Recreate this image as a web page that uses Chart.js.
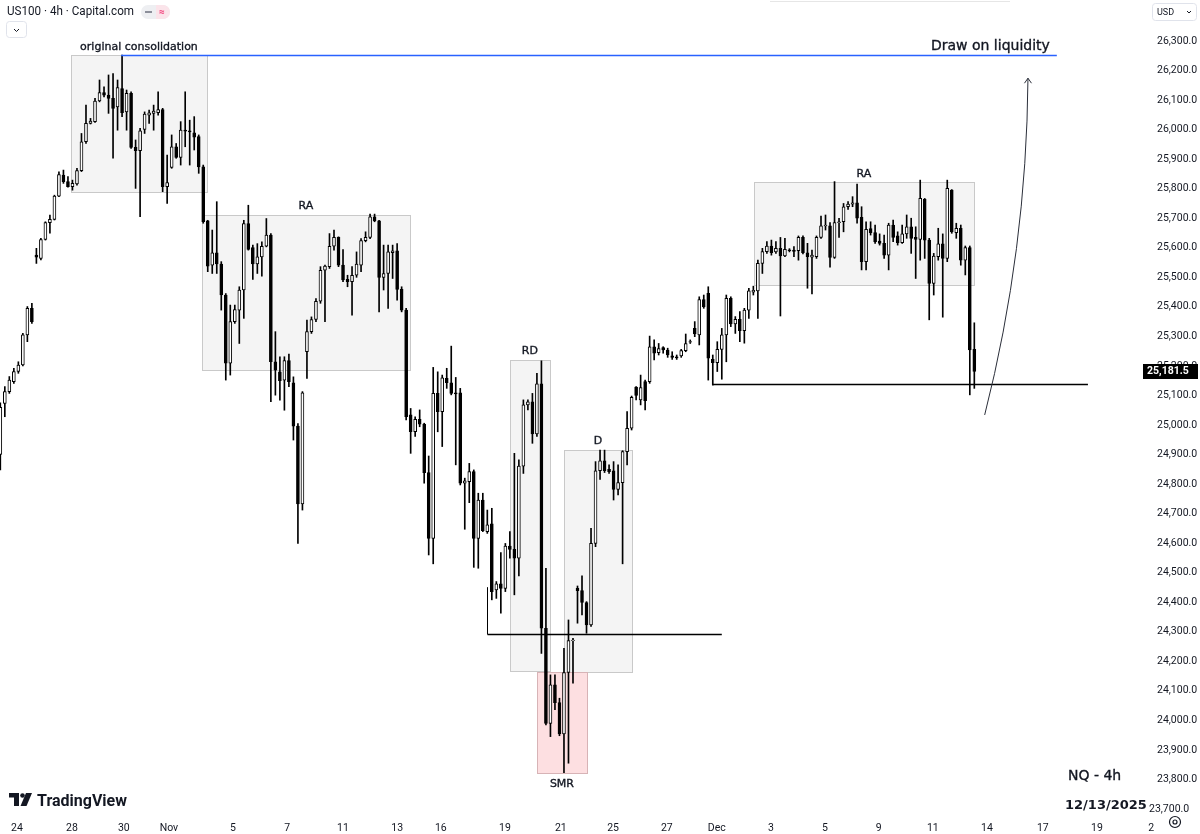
<!DOCTYPE html>
<html>
<head>
<meta charset="utf-8">
<script src="https://cdn.jsdelivr.net/npm/chart.js@4/dist/chart.umd.min.js"></script>
<style>
  html, body { margin: 0; padding: 0; background: #fff; }
  #wrap { width: 1200px; height: 834px; position: relative; background: #fff; }
</style>
</head>
<body>
<div id="wrap"><canvas id="chart" width="1200" height="834"></canvas></div>
<script>
// US100 4h candles (bar index 0 = first visible bar)
const opens = [24900,25073,25113,25147,25181,25203,25305,25395,25575,25564,
  25628,25685,25696,25775,25846,25824,25807,25816,25861,25959,
  26021,26027,26097,26125,26117,26106,26077,26139,26060,26123,
  25940,25929,26001,26049,26055,26057,26068,25807,25872,25942,
  25906,25998,25996,25989,25976,25874,25691,25541,25583,25545,
  25440,25209,25350,25389,25457,25682,25601,25545,25569,25605,
  25643,25214,25180,25152,25218,25143,24996,24733,25248,25316,
  25357,25419,25524,25536,25605,25635,25541,25493,25485,25507,
  25541,25624,25635,25705,25691,25500,25513,25583,25590,25459,
  25389,25034,24977,25019,25003,24839,24616,25107,25045,25158,
  25143,25109,25109,24803,24808,24842,24616,24746,24639,24665,
  24442,24462,24447,24590,24579,24549,24861,25068,25078,24970,
  25139,24312,23990,24120,24060,23954,24162,24270,24447,24439,
  24399,24323,24599,24845,24879,24850,24845,24782,24805,24910,
  24989,25128,25085,25147,25147,25265,25245,25262,25254,25234,
  25231,25234,25252,25280,25327,25305,25425,25446,25222,25211,
  25256,25305,25429,25342,25358,25319,25389,25450,25454,25547,
  25587,25606,25586,25598,25572,25593,25592,25590,25635,25583,
  25568,25570,25635,25674,25674,25567,25685,25688,25739,25748,
  25752,25703,25553,25665,25651,25623,25615,25575,25677,25640,
  25617,25647,25671,25635,25628,25764,25626,25479,25570,25613,
  25564,25795,25651,25666,25558,25601,25256];
const highs = [25075,25130,25164,25192,25214,25310,25401,25412,25598,25632,
  25688,25711,25778,25857,25863,25841,25829,25869,25987,26083,
  26038,26106,26168,26145,26185,26190,26168,26252,26134,26128,
  25965,26004,26060,26066,26083,26128,26072,25914,25982,25953,
  26027,26128,26032,26044,25982,25880,25693,25660,25756,25553,
  25445,25406,25406,25468,25693,25744,25609,25614,25620,25699,
  25648,25316,25231,25231,25240,25163,25005,25113,25355,25366,
  25428,25536,25541,25648,25660,25637,25594,25507,25536,25586,
  25631,25654,25714,25714,25693,25609,25609,25609,25614,25468,
  25395,25056,25028,25051,25006,24895,25195,25180,25169,25192,
  25267,25161,25124,24820,24870,24848,24769,24769,24712,24718,
  24470,24568,24599,24639,24904,24882,25085,25085,25107,25175,
  25217,24515,24154,24154,24075,24244,24340,24278,24455,24489,
  24402,24650,24876,24915,24915,24865,24876,24865,24913,25045,
  25098,25130,25169,25152,25301,25288,25276,25265,25260,25248,
  25237,25256,25308,25288,25350,25434,25440,25468,25237,25282,
  25327,25440,25434,25367,25384,25395,25463,25470,25558,25598,
  25621,25626,25621,25635,25632,25597,25604,25640,25640,25615,
  25592,25640,25707,25711,25685,25824,25700,25750,25756,25773,
  25816,25739,25688,25688,25677,25647,25643,25683,25694,25654,
  25677,25711,25700,25671,25829,25767,25632,25581,25666,25647,
  25829,25797,25683,25677,25606,25606,25346];
const lows = [24848,25028,25107,25141,25175,25200,25282,25344,25547,25559,
  25626,25649,25694,25773,25818,25805,25795,25812,25858,25953,
  26019,26024,26094,26111,26055,25903,25998,26044,25998,25936,
  25801,25705,25987,26021,25998,26049,25790,25750,25869,25903,
  25880,25942,25880,25931,25852,25683,25519,25513,25513,25389,
  25152,25169,25344,25276,25361,25592,25493,25513,25504,25603,
  25079,25101,25084,25050,25130,24949,24599,24712,25158,25310,
  25350,25412,25350,25530,25592,25536,25485,25468,25372,25500,
  25519,25620,25631,25688,25383,25457,25395,25496,25423,25383,
  25017,24904,24961,24994,24803,24560,24530,24977,24927,25124,
  25102,24865,24797,24647,24737,24518,24515,24639,24633,24408,
  24413,24363,24436,24549,24425,24489,24836,25051,24938,24961,
  24227,23985,23945,24036,23948,23823,23855,24126,24329,24357,
  24295,24318,24588,24816,24839,24836,24746,24763,24530,24865,
  24983,25085,25068,25051,25141,25220,25237,25243,25229,25222,
  25222,25229,25248,25276,25299,25271,25395,25152,25135,25181,
  25155,25214,25333,25310,25282,25277,25361,25440,25361,25513,
  25581,25575,25581,25369,25570,25586,25570,25558,25579,25463,
  25444,25564,25632,25660,25534,25564,25635,25654,25730,25739,
  25683,25525,25525,25643,25615,25609,25564,25525,25621,25609,
  25615,25632,25581,25496,25558,25564,25356,25440,25558,25365,
  25553,25649,25632,25541,25508,25102,25124];
const closes = [25060,25113,25152,25181,25203,25305,25395,25350,25568,25628,
  25685,25696,25775,25848,25824,25807,25818,25861,25959,26021,
  26029,26097,26125,26117,26106,26072,26142,26057,26123,25940,
  25929,25996,26053,26057,26063,26068,25807,25821,25942,25906,
  25998,25995,25992,25974,25874,25688,25538,25583,25545,25440,
  25209,25350,25391,25457,25682,25594,25545,25569,25605,25643,
  25214,25186,25150,25218,25147,24996,24733,25109,25316,25357,
  25419,25524,25538,25605,25635,25541,25491,25485,25507,25545,
  25624,25635,25705,25691,25500,25513,25586,25590,25459,25389,
  25028,24977,25019,25003,24839,24616,25107,25045,25160,25143,
  25107,25105,24803,24811,24842,24616,24746,24642,24662,24436,
  24462,24447,24590,24579,24549,24861,25068,25078,24970,25139,
  24312,23990,24120,24060,23954,24162,24270,24272,24439,24399,
  24323,24599,24845,24879,24845,24842,24782,24805,24910,24989,
  25094,25100,25127,25082,25265,25243,25259,25254,25237,25229,
  25227,25252,25276,25282,25308,25425,25400,25226,25211,25256,
  25305,25429,25342,25358,25319,25389,25454,25456,25547,25587,
  25606,25583,25598,25572,25595,25590,25588,25635,25583,25570,
  25575,25635,25674,25677,25567,25685,25688,25739,25748,25752,
  25700,25553,25662,25651,25621,25615,25575,25677,25635,25617,
  25647,25671,25632,25628,25767,25626,25479,25572,25613,25564,
  25801,25654,25666,25558,25601,25254,25181.5];

// time axis: label text and the bar (fractional index) where each day starts
const xTickLabels = ['24','28','30','Nov','5','7','11','13','16','19','21','25','27','Dec','3','5','9','11','14','17','19','2'];
const xTickBars = [3.7,15.9,27.4,37.4,51.6,63.6,76.0,88.0,97.7,111.9,124.3,135.9,147.8,158.9,170.9,182.9,194.8,206.8,218.8,231.2,243.2,255.2];
const yTicks = [23700,23800,23900,24000,24100,24200,24300,24400,24500,24600,24700,24800,24900,
  25000,25100,25200,25300,25400,25500,25600,25700,25800,25900,26000,26100,26200,26300];

// drawings on the chart (bar index / price)
const zones = [
  { label: 'original consolidation', from: 15.7, to: 45.8, top: 26252, bottom: 25788 },
  { label: 'RA', from: 44.7, to: 90.8, top: 25711, bottom: 25186 },
  { label: 'RD', from: 113.0, to: 121.9, top: 25220, bottom: 24167 },
  { label: 'D', from: 125.0, to: 140.1, top: 24915, bottom: 24164 },
  { label: 'SMR', from: 119.0, to: 130.1, top: 24164, bottom: 23822 },
  { label: 'RA', from: 167.1, to: 215.9, top: 25822, bottom: 25474 }
];
const liquidityLine = { from: 26.8, to: 234.3, price: 26252 };
const levelLines = [
  { from: 107.9, to: 160.0, price: 24292, tickTop: 24451 },
  { from: 157.8, to: 241.2, price: 25139, tickTop: null }
];
const arrowPath = [[218.3, 25034], [227.6, 25592], [227.9, 26174]];

const FONT = 'Roboto, "Noto Sans", "DejaVu Sans", sans-serif';
const NOTE_FONT = '"DejaVu Sans", Verdana, sans-serif';
const INK = '#131722';
const AXIS_LABEL_X = 1149;

const wickData = closes.map((c, i) => ({ x: i, y: [lows[i], highs[i]] }));
const bodyData = closes.map((c, i) => ({ x: i, y: [opens[i], c] }));
const bodyFill = closes.map((c, i) => (c >= opens[i] ? '#ffffff' : '#000000'));

const priceText = (v) => v.toLocaleString('en-US', { minimumFractionDigits: 1, maximumFractionDigits: 1 });

// text with a touch of extra weight, like the drawing labels in the picture
function heavyText(ctx, txt, x, y) {
  ctx.fillText(txt, x, y);
  ctx.lineWidth = 0.35;
  ctx.strokeStyle = ctx.fillStyle;
  ctx.strokeText(txt, x, y);
}

const drawings = {
  id: 'drawings',
  beforeDatasetsDraw(chart) {
    const ctx = chart.ctx, xs = chart.scales.x, ys = chart.scales.y;
    ctx.save();
    zones.forEach((z) => {
      const l = Math.round(xs.getPixelForValue(z.from)) + 0.5;
      const r = Math.round(xs.getPixelForValue(z.to)) + 0.5;
      const t = Math.round(ys.getPixelForValue(z.top)) + 0.5;
      const b = Math.round(ys.getPixelForValue(z.bottom)) + 0.5;
      const pink = z.label === 'SMR';
      ctx.fillStyle = pink ? '#fddfe1' : '#f4f4f4';
      ctx.fillRect(l, t, r - l, b - t);
      ctx.strokeStyle = pink ? '#d7b3b6' : '#c9c9c9';
      ctx.lineWidth = 1;
      ctx.strokeRect(l, t, r - l, b - t);
    });
    ctx.restore();
  },
  afterDatasetsDraw(chart) {
    const ctx = chart.ctx, xs = chart.scales.x, ys = chart.scales.y;
    ctx.save();
    // blue liquidity line
    const y = Math.round(ys.getPixelForValue(liquidityLine.price)) + 0.5;
    ctx.strokeStyle = '#2962ff';
    ctx.lineWidth = 1.5;
    ctx.beginPath();
    ctx.moveTo(xs.getPixelForValue(liquidityLine.from), y);
    ctx.lineTo(xs.getPixelForValue(liquidityLine.to), y);
    ctx.stroke();
    ctx.font = '14px ' + NOTE_FONT;
    ctx.fillStyle = INK;
    ctx.textAlign = 'right';
    ctx.textBaseline = 'alphabetic';
    heavyText(ctx, 'Draw on liquidity', xs.getPixelForValue(liquidityLine.to) - 7, y - 6);

    // black level lines
    ctx.strokeStyle = '#000';
    ctx.lineWidth = 1.5;
    levelLines.forEach((ln) => {
      const yy = Math.round(ys.getPixelForValue(ln.price)) + 0.5;
      const x0 = Math.round(xs.getPixelForValue(ln.from)) + 0.5;
      ctx.beginPath();
      ctx.moveTo(x0, yy);
      ctx.lineTo(xs.getPixelForValue(ln.to), yy);
      ctx.stroke();
      if (ln.tickTop) {
        ctx.lineWidth = 1;
        ctx.beginPath();
        ctx.moveTo(x0, yy);
        ctx.lineTo(x0, ys.getPixelForValue(ln.tickTop));
        ctx.stroke();
        ctx.lineWidth = 1.5;
      }
    });

    // zone labels
    ctx.fillStyle = INK;
    ctx.textAlign = 'center';
    ctx.font = '11px ' + NOTE_FONT;
    zones.forEach((z) => {
      const cx = (xs.getPixelForValue(z.from) + xs.getPixelForValue(z.to)) / 2;
      if (z.label === 'SMR') {
        ctx.textBaseline = 'top';
        heavyText(ctx, z.label, cx, ys.getPixelForValue(z.bottom) + 6);
      } else {
        ctx.textBaseline = 'bottom';
        heavyText(ctx, z.label, cx, ys.getPixelForValue(z.top) - 3);
      }
    });

    // curved arrow
    const p = arrowPath.map(([bx, pr]) => [xs.getPixelForValue(bx), ys.getPixelForValue(pr)]);
    ctx.strokeStyle = '#2a2e39';
    ctx.lineWidth = 1;
    ctx.beginPath();
    ctx.moveTo(p[0][0], p[0][1]);
    ctx.quadraticCurveTo(p[1][0], p[1][1], p[2][0], p[2][1]);
    ctx.stroke();
    ctx.beginPath();
    ctx.moveTo(p[2][0] - 3.5, p[2][1] + 5);
    ctx.lineTo(p[2][0], p[2][1]);
    ctx.lineTo(p[2][0] + 3.5, p[2][1] + 5);
    ctx.stroke();
    ctx.restore();
  },
  afterDraw(chart) {
    const ctx = chart.ctx, ys = chart.scales.y;
    ctx.save();
    // lowest price label sits right on the pane edge; draw it here so it is not clipped
    ctx.fillStyle = INK;
    ctx.font = '10.5px ' + FONT;
    ctx.textAlign = 'left';
    ctx.textBaseline = 'middle';
    ctx.fillText(priceText(yTicks[0]), AXIS_LABEL_X, ys.getPixelForValue(yTicks[0]));

    // last price tag
    const last = closes[closes.length - 1];
    const lastY = Math.round(ys.getPixelForValue(last));
    ctx.fillStyle = '#000';
    ctx.fillRect(1143, lastY - 7, 55, 15);
    ctx.fillStyle = '#fff';
    ctx.font = 'bold 10.5px ' + FONT;
    ctx.fillText(priceText(last), 1147, lastY + 0.5);

    // header
    ctx.fillStyle = INK;
    ctx.font = '13px ' + FONT;
    const title = 'US100 \u00b7 4h \u00b7 Capital.com';
    const tw = ctx.measureText(title).width;
    ctx.save();
    ctx.translate(7, 12);
    ctx.scale(127 / tw, 1);
    ctx.fillText(title, 0, 0);
    ctx.restore();
    ctx.fillStyle = '#eeeff2';
    ctx.beginPath();
    ctx.roundRect(141, 5, 29, 14, 7);
    ctx.fill();
    ctx.fillStyle = '#fbe4ea';
    ctx.beginPath();
    ctx.roundRect(156, 5, 14, 14, [0, 7, 7, 0]);
    ctx.fill();
    ctx.fillStyle = '#8c8f9a';
    ctx.fillRect(145, 11, 7, 2);
    ctx.fillStyle = '#f23675';
    ctx.font = 'bold 10px ' + FONT;
    ctx.textAlign = 'center';
    ctx.fillText('\u2248', 162, 12);
    ctx.strokeStyle = '#e0e3eb';
    ctx.lineWidth = 1;
    ctx.beginPath();
    ctx.roundRect(6.5, 21.5, 20, 16, 3);
    ctx.stroke();
    ctx.strokeStyle = INK;
    ctx.beginPath();
    ctx.moveTo(14, 29); ctx.lineTo(16.5, 31.5); ctx.lineTo(19, 29);
    ctx.stroke();

    // currency box
    ctx.strokeStyle = '#e0e3eb';
    ctx.beginPath();
    ctx.roundRect(1152.5, 3.5, 44, 17, 3);
    ctx.stroke();
    ctx.fillStyle = INK;
    ctx.font = '9px ' + FONT;
    ctx.textAlign = 'left';
    ctx.fillText('USD', 1157, 12.5);
    ctx.strokeStyle = INK;
    ctx.beginPath();
    ctx.moveTo(1187, 11); ctx.lineTo(1189, 13); ctx.lineTo(1191, 11);
    ctx.stroke();
    ctx.strokeStyle = '#e6e6e6';
    ctx.beginPath();
    ctx.moveTo(770, 1.5); ctx.lineTo(1010, 1.5);
    ctx.stroke();

    // TradingView logo
    ctx.fillStyle = '#131722';
    ctx.fillRect(9, 793, 10, 4.5);
    ctx.fillRect(14, 793, 5, 13);
    ctx.beginPath();
    ctx.arc(22.5, 795.5, 2.3, 0, Math.PI * 2);
    ctx.fill();
    ctx.beginPath();
    ctx.moveTo(26, 793); ctx.lineTo(32, 793); ctx.lineTo(26.5, 806); ctx.lineTo(20.5, 806);
    ctx.closePath();
    ctx.fill();
    ctx.font = 'bold 16px ' + FONT;
    ctx.textBaseline = 'alphabetic';
    ctx.fillText('TradingView', 37, 806);

    // notes bottom right
    ctx.font = '14px ' + NOTE_FONT;
    heavyText(ctx, 'NQ - 4h', 1068, 780);
    ctx.font = 'bold 13px ' + NOTE_FONT;
    ctx.fillText('12/13/2025', 1065, 809);

    // settings gear
    ctx.strokeStyle = INK;
    ctx.lineWidth = 1.2;
    ctx.beginPath();
    ctx.arc(1175, 822, 5.5, 0, Math.PI * 2);
    ctx.stroke();
    ctx.beginPath();
    ctx.arc(1175, 822, 2, 0, Math.PI * 2);
    ctx.stroke();
    ctx.restore();
  }
};

new Chart(document.getElementById('chart'), {
  type: 'bar',
  data: {
    datasets: [
      {
        label: 'wicks',
        data: wickData,
        backgroundColor: '#000000',
        barThickness: 1,
        grouped: false,
        order: 2
      },
      {
        label: 'bodies',
        data: bodyData,
        backgroundColor: bodyFill,
        borderColor: '#000000',
        borderWidth: 1,
        borderSkipped: false,
        barThickness: 3,
        grouped: false,
        order: 1
      }
    ]
  },
  options: {
    responsive: false,
    animation: false,
    events: [],
    layout: { padding: 0 },
    plugins: { legend: { display: false }, tooltip: { enabled: false } },
    scales: {
      x: {
        type: 'linear',
        min: -0.07,
        max: 252.3,
        offset: false,
        grid: { display: false },
        border: { display: false },
        afterBuildTicks: (s) => { s.ticks = xTickBars.map((v) => ({ value: v })); },
        afterFit: (s) => { s.height = 22; s.paddingLeft = 0; s.paddingRight = 0; },
        ticks: {
          autoSkip: false,
          maxRotation: 0,
          padding: 2,
          color: INK,
          font: { family: FONT, size: 10.5 },
          callback: (v, i) => xTickLabels[i]
        }
      },
      y: {
        position: 'right',
        min: 23689.8,
        max: 26438.8,
        grid: { display: false },
        border: { display: false },
        afterBuildTicks: (s) => { s.ticks = yTicks.map((v) => ({ value: v })); },
        afterFit: (s) => { s.width = 62; s.paddingTop = 0; s.paddingBottom = 0; },
        ticks: {
          autoSkip: false,
          padding: AXIS_LABEL_X - 1138,
          color: INK,
          font: { family: FONT, size: 10.5 },
          callback: (v) => (v === yTicks[0] ? '' : priceText(v))
        }
      }
    }
  },
  plugins: [drawings]
});
</script>
</body>
</html>
